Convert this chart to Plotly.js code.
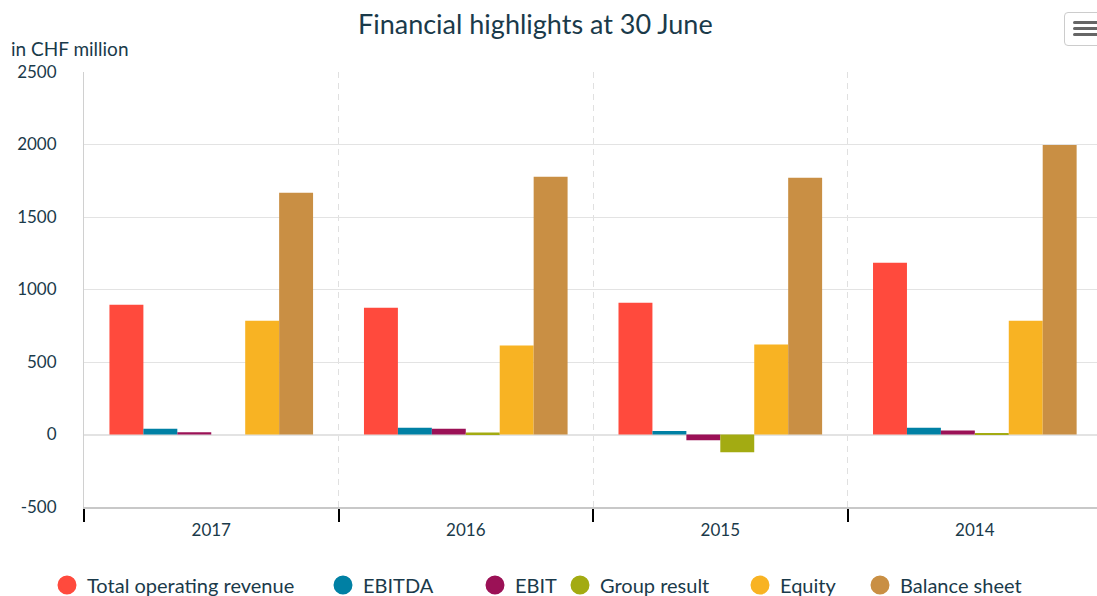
<!DOCTYPE html>
<html>
<head>
<meta charset="utf-8">
<script src="https://cdn.plot.ly/plotly-3.0.1.min.js"></script>
<style>
  html, body { margin: 0; padding: 0; background: #fff; }
  #chart { width: 1097px; height: 596px; position: relative; }
  #menu { position: absolute; left: 1064px; top: 12px; width: 40px; height: 34px; border: 1px solid #cccccc; border-radius: 4px; background: #fff; box-sizing: border-box; }
  #menu span { position: absolute; left: 8px; width: 26px; height: 3px; background: #666; border-radius: 2px; }
</style>
</head>
<body>
<div id="chart"></div>
<div id="menu"><span style="top:8px"></span><span style="top:14px"></span><span style="top:20px"></span></div>
<script>
const years = ["2017", "2016", "2015", "2014"];
const seriesNames = ["Total operating revenue", "EBITDA", "EBIT", "Group result", "Equity", "Balance sheet"];
const totalOperatingRevenue = [895, 875, 909, 1185];
const ebitda = [40, 46, 25, 46];
const ebit = [15, 40, -40, 27];
const groupResult = [0, 13, -122, 7];
const equity = [785, 613, 620, 785];
const balanceSheet = [1667, 1777, 1770, 1997];
const colors = ["#ff4a3d", "#0080a4", "#9b1156", "#a3ab12", "#f8b323", "#c98f44"];
const yTickVals = [-500, 0, 500, 1000, 1500, 2000, 2500];
const yTickText = ["-500", "0", "500", "1000", "1500", "2000", "2500"];

const values = [totalOperatingRevenue, ebitda, ebit, groupResult, equity, balanceSheet];
const textColor = "#1a3a4a";
const font = "Lato, 'Open Sans', sans-serif";
// legend entry circle centres (container pixels)
const legendCentres = [67, 343, 495, 580, 760, 880];
const W = 1097, H = 596;

const traces = [];
values.forEach((v, i) => {
  traces.push({
    type: "bar", x: years, y: v, name: seriesNames[i],
    marker: { color: colors[i], line: { width: 0 } },
    showlegend: false, hoverinfo: "x+y+name"
  });
});
values.forEach((v, i) => {
  traces.push({
    type: "scatter", mode: "markers", x: [null], y: [null],
    name: seriesNames[i], legend: i === 0 ? "legend" : "legend" + (i + 1),
    marker: { color: colors[i], size: 16, symbol: "circle", line: { color: colors[i], width: 3 } },
    showlegend: true, hoverinfo: "skip"
  });
});

const layout = {
  width: W, height: H,
  margin: { l: 84, r: 0, t: 72, b: 89 },
  paper_bgcolor: "#fff", plot_bgcolor: "#fff",
  font: { family: font, color: textColor, size: 15 },
  barmode: "group", bargap: 0.2, bargroupgap: 0,
  title: { text: "Financial highlights at 30 June", font: { size: 27, color: textColor, family: font },
           x: 0.488, xref: "container", xanchor: "center", y: 0.958, yref: "container", yanchor: "middle" },
  xaxis: {
    type: "category", range: [-0.5, 3.48],
    tickson: "boundaries", ticks: "outside", ticklen: 13, tickwidth: 2, tickcolor: "#000",
    showgrid: true, gridcolor: "#e0e0e0", griddash: "6px,5px", gridwidth: 1,
    showline: true, linecolor: "#c8c8c8", linewidth: 2,
    tickfont: { size: 17, color: textColor }, ticklabelstandoff: 7,
    fixedrange: true
  },
  yaxis: {
    range: [-500, 2500], tickvals: yTickVals, ticktext: yTickText,
    showgrid: true, gridcolor: "#e3e3e3", gridwidth: 1,
    zeroline: true, zerolinecolor: "#e3e3e3", zerolinewidth: 2,
    showline: true, linecolor: "#d0d0d0", linewidth: 1,
    ticks: "", tickfont: { size: 17, color: textColor }, ticklabelstandoff: 23,
    fixedrange: true
  },
  annotations: [{
    text: "in CHF million", xref: "paper", yref: "paper", x: -0.074, y: 1.055,
    xanchor: "left", yanchor: "middle", showarrow: false, font: { size: 19, color: textColor }
  }],
  showlegend: true
};
legendCentres.forEach((cx, i) => {
  const key = i === 0 ? "legend" : "legend" + (i + 1);
  layout[key] = {
    orientation: "h", xref: "container", yref: "container",
    x: (cx - 20) / W, xanchor: "left", y: (H - 585) / H, yanchor: "middle",
    font: { size: 20, color: textColor }, itemsizing: "trace", itemwidth: 30,
    bgcolor: "rgba(0,0,0,0)", borderwidth: 0
  };
});

Plotly.newPlot("chart", traces, layout, { displayModeBar: false, responsive: false });
</script>
</body>
</html>
